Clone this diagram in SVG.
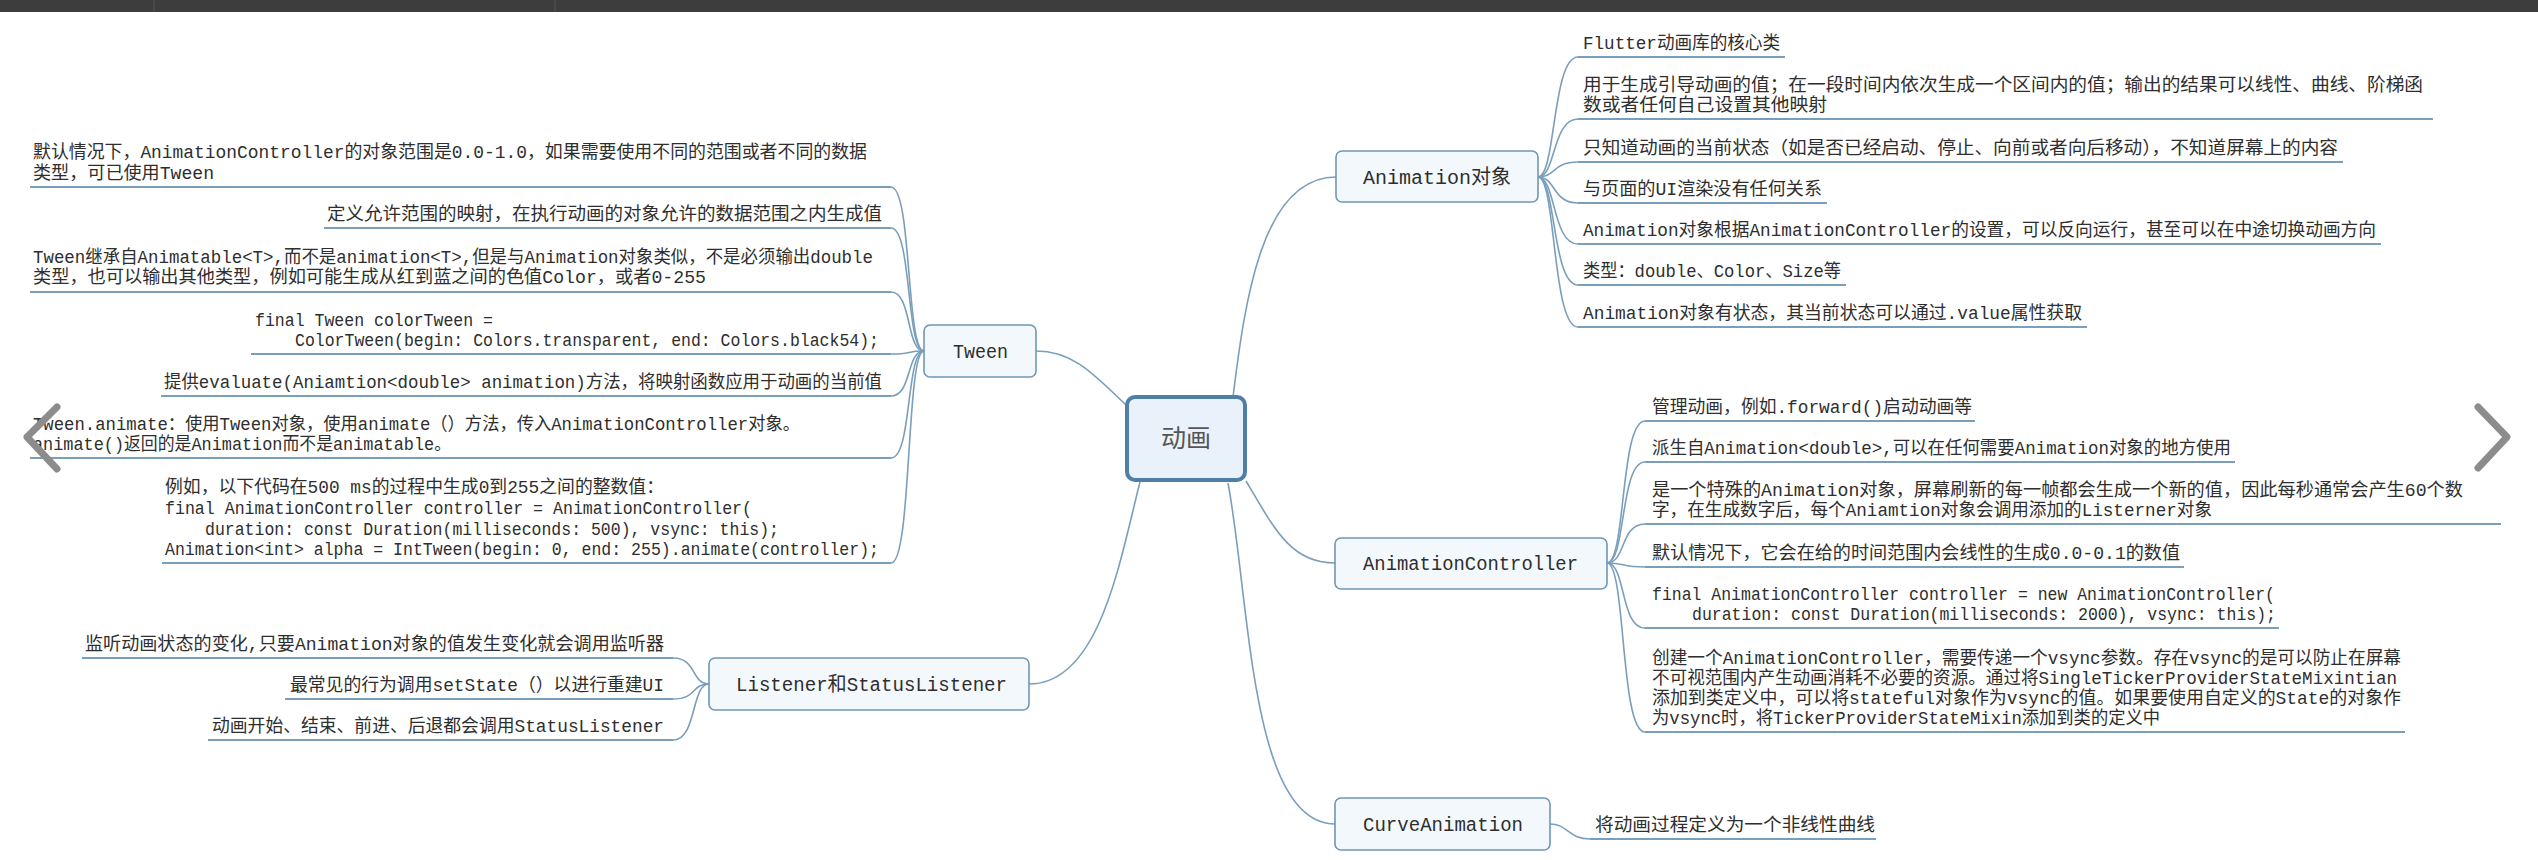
<svg xmlns="http://www.w3.org/2000/svg" width="2538" height="860" viewBox="0 0 2538 860">
<style>
.t{font-family:"Liberation Mono","Noto Sans CJK SC",monospace;font-size:18px;fill:#2e2e2e}
.nt{font-family:"Liberation Mono","Noto Sans CJK SC",monospace;font-size:20px;fill:#2e2e2e}
.box{fill:#f3f8fd;stroke:#6f97b7;stroke-width:1.6}
.ul{stroke:#7a9fbd;stroke-width:2;fill:none}
.cn{fill:none;stroke:#7a9fbd;stroke-width:1.6}
.chev{fill:none;stroke:#8c8c8c;stroke-width:7;stroke-linecap:round;stroke-linejoin:round}
</style>
<rect width="2538" height="860" fill="#ffffff"/>
<rect x="0" y="0" width="2538" height="12" fill="#3d3d3d"/>
<line x1="154" y1="0" x2="154" y2="12" stroke="#555"/>
<line x1="555" y1="0" x2="555" y2="12" stroke="#555"/>

<g id="connectors">
  <path class="cn" d="M1127,406 C1092,372 1072,351 1036,351"/>
  <path class="cn" d="M1140,482 C1120,560 1100,684 1029,684"/>
  <path class="cn" d="M1233,397 C1245,300 1262,177 1336,177"/>
  <path class="cn" d="M1246,481 C1276,532 1292,563 1335,563"/>
  <path class="cn" d="M1228,483 C1250,600 1250,824 1335,824"/>
  <!-- Animation对象 leaves -->
  <path class="cn" d="M1538,177 C1556,177 1552,57 1578,57"/>
  <path class="cn" d="M1538,177 C1556,177 1552,119 1578,119"/>
  <path class="cn" d="M1538,177 C1556,177 1552,162 1578,162"/>
  <path class="cn" d="M1538,177 C1556,177 1552,203 1578,203"/>
  <path class="cn" d="M1538,177 C1556,177 1552,244 1578,244"/>
  <path class="cn" d="M1538,177 C1556,177 1552,285 1578,285"/>
  <path class="cn" d="M1538,177 C1556,177 1552,327 1578,327"/>
  <!-- AnimationController leaves -->
  <path class="cn" d="M1607,563 C1626,563 1620,421 1645,421"/>
  <path class="cn" d="M1607,563 C1626,563 1620,462 1645,462"/>
  <path class="cn" d="M1607,563 C1626,563 1620,524 1645,524"/>
  <path class="cn" d="M1607,563 C1626,563 1620,567 1645,567"/>
  <path class="cn" d="M1607,563 C1626,563 1620,628 1645,628"/>
  <path class="cn" d="M1607,563 C1626,563 1620,732 1645,732"/>
  <!-- CurveAnimation leaf -->
  <path class="cn" d="M1550,824 C1568,824 1568,839 1590,839"/>
  <!-- Tween leaves -->
  <path class="cn" d="M924,351 C906,351 912,187 891,187"/>
  <path class="cn" d="M924,351 C906,351 912,228 891,228"/>
  <path class="cn" d="M924,351 C906,351 912,292 891,292"/>
  <path class="cn" d="M924,351 C906,351 912,354 891,354"/>
  <path class="cn" d="M924,351 C906,351 912,396 891,396"/>
  <path class="cn" d="M924,351 C906,351 912,458 891,458"/>
  <path class="cn" d="M924,351 C906,351 912,563 891,563"/>
  <!-- Listener leaves -->
  <path class="cn" d="M709,684 C691,684 697,658 673,658"/>
  <path class="cn" d="M709,684 C691,684 697,699 673,699"/>
  <path class="cn" d="M709,684 C691,684 697,740 673,740"/>
</g>

<g id="node-root">
  <rect x="1127" y="397" width="118" height="83" rx="8" fill="#e9f1fb" stroke="#4f7fa7" stroke-width="4"/>
  <text x="1186" y="447" text-anchor="middle" font-family="'Noto Sans CJK SC',sans-serif" font-size="25" fill="#555">动画</text>
</g>

<g id="node-animation">
  <rect class="box" x="1336" y="151" width="202" height="51" rx="6"/>
  <text class="nt" x="1363" y="184" textLength="148" lengthAdjust="spacingAndGlyphs">Animation对象</text>
</g>
<g id="leaf-a1"><line class="ul" x1="1578" y1="57" x2="1785" y2="57"/><text class="t" x="1583" y="49" textLength="197" lengthAdjust="spacingAndGlyphs">Flutter动画库的核心类</text></g>
<g id="leaf-a2"><line class="ul" x1="1578" y1="119" x2="2433" y2="119"/>
  <text class="t" x="1583" y="91" textLength="840" lengthAdjust="spacingAndGlyphs">用于生成引导动画的值；在一段时间内依次生成一个区间内的值；输出的结果可以线性、曲线、阶梯函</text>
  <text class="t" x="1583" y="111" textLength="244" lengthAdjust="spacingAndGlyphs">数或者任何自己设置其他映射</text></g>
<g id="leaf-a3"><line class="ul" x1="1578" y1="162" x2="2343" y2="162"/><text class="t" x="1583" y="154" textLength="755" lengthAdjust="spacingAndGlyphs">只知道动画的当前状态（如是否已经启动、停止、向前或者向后移动），不知道屏幕上的内容</text></g>
<g id="leaf-a4"><line class="ul" x1="1578" y1="203" x2="1827" y2="203"/><text class="t" x="1583" y="195" textLength="239" lengthAdjust="spacingAndGlyphs">与页面的UI渲染没有任何关系</text></g>
<g id="leaf-a5"><line class="ul" x1="1578" y1="244" x2="2381" y2="244"/><text class="t" x="1583" y="236" textLength="793" lengthAdjust="spacingAndGlyphs">Animation对象根据AnimationController的设置，可以反向运行，甚至可以在中途切换动画方向</text></g>
<g id="leaf-a6"><line class="ul" x1="1578" y1="285" x2="1846" y2="285"/><text class="t" x="1583" y="277" textLength="258" lengthAdjust="spacingAndGlyphs">类型：double、Color、Size等</text></g>
<g id="leaf-a7"><line class="ul" x1="1578" y1="327" x2="2087" y2="327"/><text class="t" x="1583" y="319" textLength="499" lengthAdjust="spacingAndGlyphs">Animation对象有状态，其当前状态可以通过.value属性获取</text></g>

<g id="node-controller">
  <rect class="box" x="1335" y="538" width="272" height="51" rx="6"/>
  <text class="nt" x="1363" y="570" textLength="215" lengthAdjust="spacingAndGlyphs">AnimationController</text>
</g>
<g id="leaf-c1"><line class="ul" x1="1645" y1="421" x2="1975" y2="421"/><text class="t" x="1652" y="413" textLength="320" lengthAdjust="spacingAndGlyphs">管理动画，例如.forward()启动动画等</text></g>
<g id="leaf-c2"><line class="ul" x1="1645" y1="462" x2="2235" y2="462"/><text class="t" x="1652" y="454" textLength="579" lengthAdjust="spacingAndGlyphs">派生自Animation&lt;double&gt;,可以在任何需要Animation对象的地方使用</text></g>
<g id="leaf-c3"><line class="ul" x1="1645" y1="524" x2="2501" y2="524"/>
  <text class="t" x="1652" y="496" textLength="811" lengthAdjust="spacingAndGlyphs">是一个特殊的Animation对象，屏幕刷新的每一帧都会生成一个新的值，因此每秒通常会产生60个数</text>
  <text class="t" x="1652" y="516" textLength="560" lengthAdjust="spacingAndGlyphs">字，在生成数字后，每个Aniamtion对象会调用添加的Listerner对象</text></g>
<g id="leaf-c4"><line class="ul" x1="1645" y1="567" x2="2184" y2="567"/><text class="t" x="1652" y="559" textLength="528" lengthAdjust="spacingAndGlyphs">默认情况下，它会在给的时间范围内会线性的生成0.0-0.1的数值</text></g>
<g id="leaf-c5"><line class="ul" x1="1645" y1="628" x2="2279" y2="628"/>
  <text class="t" x="1652" y="600" textLength="623" lengthAdjust="spacingAndGlyphs">final AnimationController controller = new AnimationController(</text>
  <text class="t" x="1692" y="620" textLength="584" lengthAdjust="spacingAndGlyphs">duration: const Duration(milliseconds: 2000), vsync: this);</text></g>
<g id="leaf-c6"><line class="ul" x1="1645" y1="732" x2="2405" y2="732"/>
  <text class="t" x="1652" y="664" textLength="749" lengthAdjust="spacingAndGlyphs">创建一个AnimationController，需要传递一个vsync参数。存在vsync的是可以防止在屏幕</text>
  <text class="t" x="1652" y="684" textLength="745" lengthAdjust="spacingAndGlyphs">不可视范围内产生动画消耗不必要的资源。通过将SingleTickerProviderStateMixintian</text>
  <text class="t" x="1652" y="704" textLength="749" lengthAdjust="spacingAndGlyphs">添加到类定义中，可以将stateful对象作为vsync的值。如果要使用自定义的State的对象作</text>
  <text class="t" x="1652" y="724" textLength="508" lengthAdjust="spacingAndGlyphs">为vsync时，将TickerProviderStateMixin添加到类的定义中</text></g>

<g id="node-curve">
  <rect class="box" x="1335" y="798" width="215" height="52" rx="6"/>
  <text class="nt" x="1363" y="831" textLength="160" lengthAdjust="spacingAndGlyphs">CurveAnimation</text>
</g>
<g id="leaf-v1"><line class="ul" x1="1590" y1="839" x2="1876" y2="839"/><text class="t" x="1595" y="831" textLength="280" lengthAdjust="spacingAndGlyphs">将动画过程定义为一个非线性曲线</text></g>

<g id="node-tween">
  <rect class="box" x="924" y="325" width="112" height="52" rx="6"/>
  <text class="nt" x="953" y="358" textLength="55" lengthAdjust="spacingAndGlyphs">Tween</text>
</g>
<g id="leaf-t1"><line class="ul" x1="30" y1="187" x2="891" y2="187"/>
  <text class="t" x="33" y="158" textLength="834" lengthAdjust="spacingAndGlyphs">默认情况下，AnimationController的对象范围是0.0-1.0，如果需要使用不同的范围或者不同的数据</text>
  <text class="t" x="33" y="179" textLength="181" lengthAdjust="spacingAndGlyphs">类型，可已使用Tween</text></g>
<g id="leaf-t2"><line class="ul" x1="324" y1="228" x2="891" y2="228"/><text class="t" x="327" y="220" textLength="555" lengthAdjust="spacingAndGlyphs">定义允许范围的映射，在执行动画的对象允许的数据范围之内生成值</text></g>
<g id="leaf-t3"><line class="ul" x1="30" y1="292" x2="891" y2="292"/>
  <text class="t" x="33" y="263" textLength="840" lengthAdjust="spacingAndGlyphs">Tween继承自Animatable&lt;T&gt;,而不是animation&lt;T&gt;,但是与Animation对象类似，不是必须输出double</text>
  <text class="t" x="33" y="283" textLength="673" lengthAdjust="spacingAndGlyphs">类型，也可以输出其他类型，例如可能生成从红到蓝之间的色值Color，或者0-255</text></g>
<g id="leaf-t4"><line class="ul" x1="251" y1="354" x2="891" y2="354"/>
  <text class="t" x="255" y="326" textLength="238" lengthAdjust="spacingAndGlyphs">final Tween colorTween =</text>
  <text class="t" x="295" y="346" textLength="584" lengthAdjust="spacingAndGlyphs">ColorTween(begin: Colors.transparent, end: Colors.black54);</text></g>
<g id="leaf-t5"><line class="ul" x1="161" y1="396" x2="891" y2="396"/><text class="t" x="164" y="388" textLength="718" lengthAdjust="spacingAndGlyphs">提供evaluate(Aniamtion&lt;double&gt; animation)方法，将映射函数应用于动画的当前值</text></g>
<g id="leaf-t6"><line class="ul" x1="30" y1="458" x2="891" y2="458"/>
  <text class="t" x="33" y="430" textLength="767" lengthAdjust="spacingAndGlyphs">Tween.animate：使用Tween对象，使用animate（）方法，传入AnimationController对象。</text>
  <text class="t" x="33" y="450" textLength="418" lengthAdjust="spacingAndGlyphs">animate()返回的是Animation而不是animatable。</text></g>
<g id="leaf-t7"><line class="ul" x1="162" y1="563" x2="891" y2="563"/>
  <text class="t" x="165" y="493" textLength="499" lengthAdjust="spacingAndGlyphs">例如，以下代码在500 ms的过程中生成0到255之间的整数值：</text>
  <text class="t" x="165" y="514" textLength="587" lengthAdjust="spacingAndGlyphs">final AnimationController controller = AnimationController(</text>
  <text class="t" x="205" y="535" textLength="574" lengthAdjust="spacingAndGlyphs">duration: const Duration(milliseconds: 500), vsync: this);</text>
  <text class="t" x="165" y="555" textLength="714" lengthAdjust="spacingAndGlyphs">Animation&lt;int&gt; alpha = IntTween(begin: 0, end: 255).animate(controller);</text></g>

<g id="node-listener">
  <rect class="box" x="709" y="658" width="320" height="52" rx="6"/>
  <text class="nt" x="736" y="691" textLength="271" lengthAdjust="spacingAndGlyphs">Listener和StatusListener</text>
</g>
<g id="leaf-l1"><line class="ul" x1="82" y1="658" x2="673" y2="658"/><text class="t" x="85" y="650" textLength="579" lengthAdjust="spacingAndGlyphs">监听动画状态的变化,只要Animation对象的值发生变化就会调用监听器</text></g>
<g id="leaf-l2"><line class="ul" x1="285" y1="699" x2="673" y2="699"/><text class="t" x="290" y="691" textLength="374" lengthAdjust="spacingAndGlyphs">最常见的行为调用setState（）以进行重建UI</text></g>
<g id="leaf-l3"><line class="ul" x1="208" y1="740" x2="673" y2="740"/><text class="t" x="212" y="732" textLength="452" lengthAdjust="spacingAndGlyphs">动画开始、结束、前进、后退都会调用StatusListener</text></g>

<polyline class="chev" points="57,407 27,437 57,469"/>
<polyline class="chev" points="2478,407 2507,437 2478,468"/>
</svg>
